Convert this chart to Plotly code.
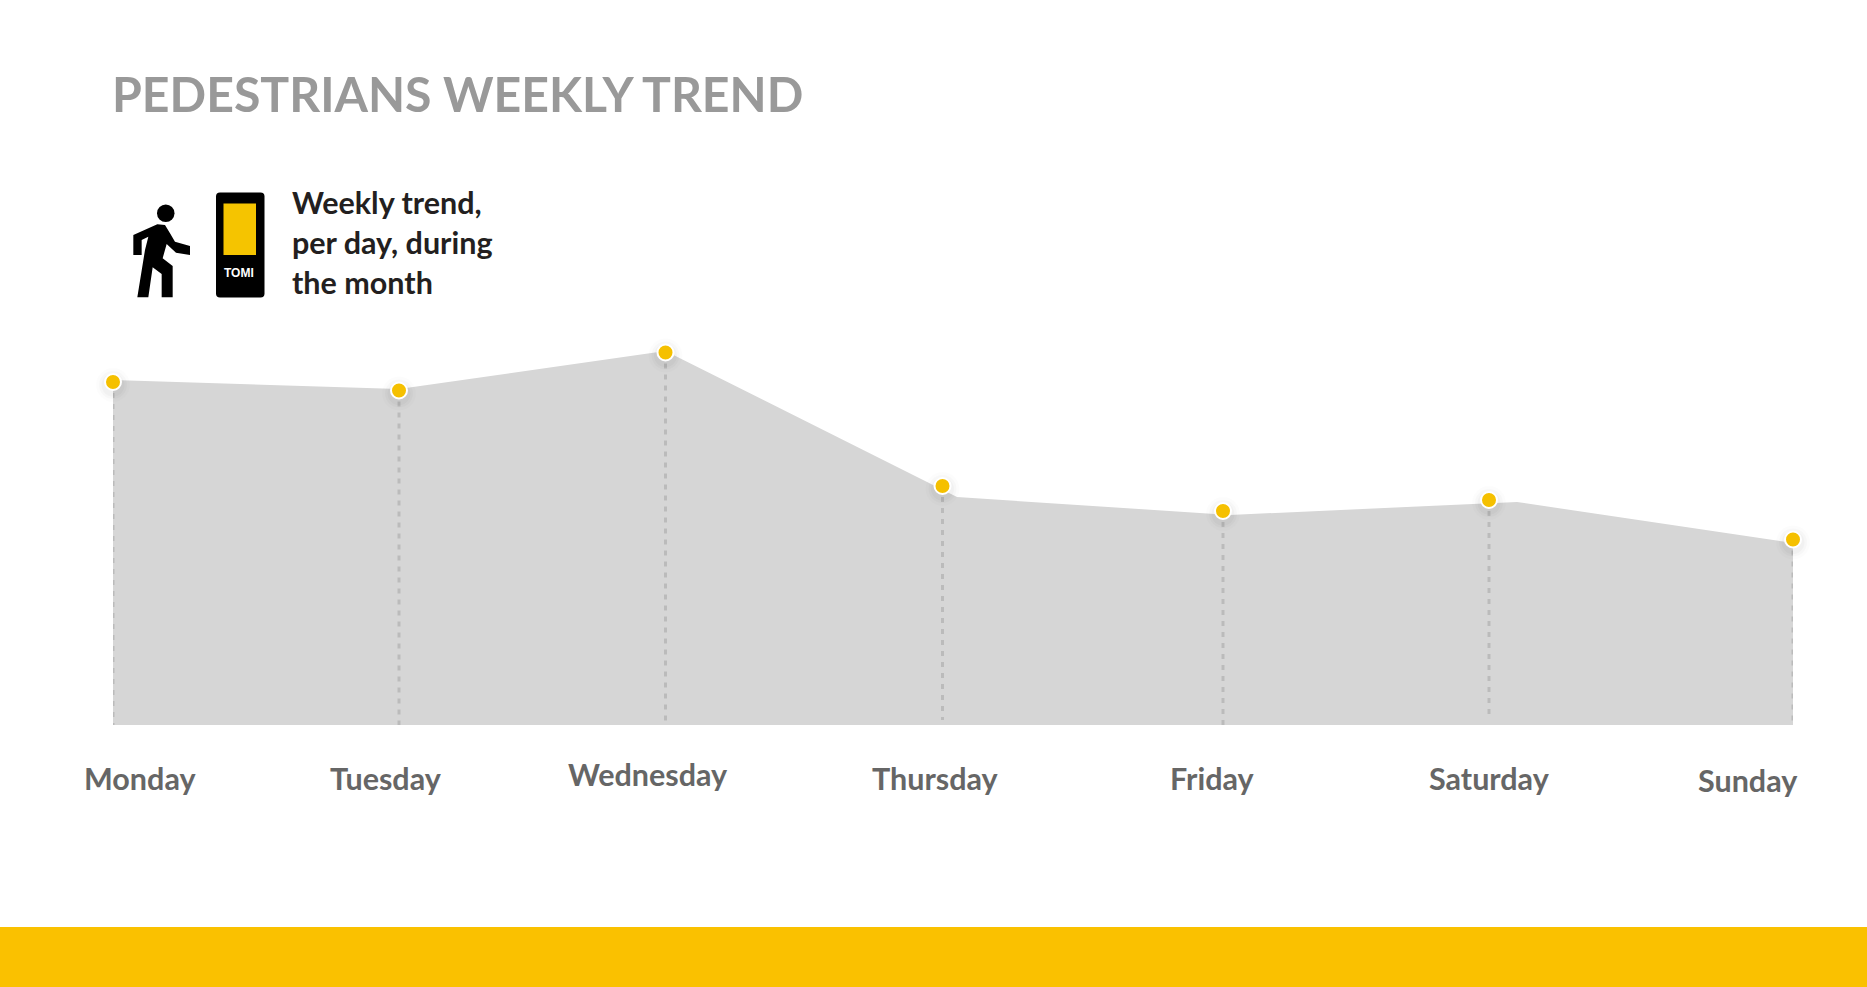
import plotly.graph_objects as go

days = ["Monday", "Tuesday", "Wednesday", "Thursday", "Friday", "Saturday", "Sunday"]
# estimated readings: position along the week axis and relative level
point_pos = [0, 286, 552.5, 829.5, 1110, 1376, 1680]
point_val = [343, 334.5, 372.5, 239, 214, 225, 185.5]
drop_end = [0, -2, 3, 5, 0, 5, 0]
area_pos = [0, 286, 552.5, 844, 1117, 1404, 1680]
area_val = [345, 336, 374, 228, 210, 223, 182]

title = "PEDESTRIANS WEEKLY TREND"
subtitle = ["Weekly trend,", "per day, during", "the month"]
label_x = [139.5, 386, 648, 935, 1212, 1489.6, 1748]
label_y = [777.5, 777.5, 774, 777.5, 777.5, 777.5, 780]

W, H = 1867, 987
L, R, T, B = 113, 74, 300, 262
XSPAN, YSPAN = 1680, 425
FONT = "Lato"


def px(x):
    return (x - L) / XSPAN


def py(y):
    return (H - B - y) / YSPAN


def path(points):
    return "M" + " L".join(f"{px(x):.5f},{py(y):.5f}" for x, y in points) + " Z"


def zoomed(points):
    return [(120 + a / 3, 180 + b / 3) for a, b in points]


def round_rect(x0, y0, x1, y1, r):
    c = lambda x, y: f"{px(x):.5f},{py(y):.5f}"
    return (f"M{c(x0 + r, y0)} L{c(x1 - r, y0)} Q{c(x1, y0)} {c(x1, y0 + r)} L{c(x1, y1 - r)} "
            f"Q{c(x1, y1)} {c(x1 - r, y1)} L{c(x0 + r, y1)} Q{c(x0, y1)} {c(x0, y1 - r)} "
            f"L{c(x0, y0 + r)} Q{c(x0, y0)} {c(x0 + r, y0)} Z")


fig = go.Figure()
fig.add_trace(go.Scatter(x=area_pos, y=area_val, mode="lines", fill="tozeroy",
                         fillcolor="#D6D6D6", line=dict(color="#D6D6D6", width=0),
                         hoverinfo="skip"))
dx, dy = [], []
for p, v, e in zip(point_pos, point_val, drop_end):
    dx += [p, p, None]
    dy += [v, e, None]
fig.add_trace(go.Scatter(x=dx, y=dy, mode="lines", hoverinfo="skip", cliponaxis=False,
                         line=dict(color="#BBBBBB", width=3, dash="5px,6px")))
for size, alpha in [(34, 0.012), (28, 0.018), (23, 0.025)]:
    fig.add_trace(go.Scatter(x=point_pos, y=[v - 3 for v in point_val], mode="markers",
                             marker=dict(size=size, color=f"rgba(0,0,0,{alpha})"),
                             hoverinfo="skip", cliponaxis=False))
fig.add_trace(go.Scatter(x=point_pos, y=point_val, mode="markers", text=days, cliponaxis=False,
                         marker=dict(size=16, color="#F5C000", line=dict(color="#FFFFFF", width=2))))

shapes = [
    dict(type="rect", xref="paper", yref="paper", x0=px(0), x1=px(W), y0=py(927), y1=py(H),
         fillcolor="#FAC100", line_width=0, layer="below"),
    # pedestrian head and body
    dict(type="circle", xref="paper", yref="paper", x0=px(157), x1=px(174.5), y0=py(204.5), y1=py(222),
         fillcolor="#000000", line_width=0),
    dict(type="path", xref="paper", yref="paper", fillcolor="#000000", line_width=0,
         path=path(zoomed([(112, 133), (135, 135), (150, 160), (165, 185), (210, 198), (210, 225),
                           (168, 218), (140, 192), (128, 235), (158, 258), (158, 352), (125, 352),
                           (125, 282), (98, 262), (85, 352), (52, 352), (75, 210), (85, 170),
                           (65, 180), (65, 225), (40, 225), (40, 165)]))),
    # device
    dict(type="path", xref="paper", yref="paper", path=round_rect(216, 192.5, 264.5, 297.5, 4),
         fillcolor="#000000", line_width=0),
    dict(type="rect", xref="paper", yref="paper", x0=px(223.5), x1=px(256), y0=py(203.5), y1=py(255),
         fillcolor="#F5C400", line_width=0),
]

ann = [dict(text=f"<b>{title}</b>", x=px(110), y=py(93), xref="paper", yref="paper", xanchor="left",
            yanchor="middle", showarrow=False, font=dict(family=FONT, size=48.2, color="#999999")),
       dict(text="<b>TOMI</b>", x=px(238.5), y=py(273), xref="paper", yref="paper", showarrow=False,
            xanchor="center", yanchor="middle",
            font=dict(family="Liberation Sans", size=12, color="#FFFFFF"))]
for line, yy in zip(subtitle, [202.5, 242, 282]):
    ann.append(dict(text=f"<b>{line}</b>", x=px(290), y=py(yy), xref="paper", yref="paper", xanchor="left",
                    yanchor="middle", showarrow=False, font=dict(family=FONT, size=30.5, color="#231F20")))
for d, xx, yy in zip(days, label_x, label_y):
    ann.append(dict(text=f"<b>{d}</b>", x=px(xx), y=py(yy), xref="paper", yref="paper", showarrow=False,
                    xanchor="center", yanchor="middle", font=dict(family=FONT, size=30.5, color="#666666")))

fig.update_layout(width=W, height=H, margin=dict(l=L, r=R, t=T, b=B), showlegend=False,
                  paper_bgcolor="#FFFFFF", plot_bgcolor="#FFFFFF", shapes=shapes, annotations=ann,
                  xaxis=dict(range=[0, XSPAN], visible=False),
                  yaxis=dict(range=[0, YSPAN], visible=False))
fig.write_html("out.html", config={"displayModeBar": False},
               post_script="document.body.style.margin='0';document.body.style.overflow='hidden';")
